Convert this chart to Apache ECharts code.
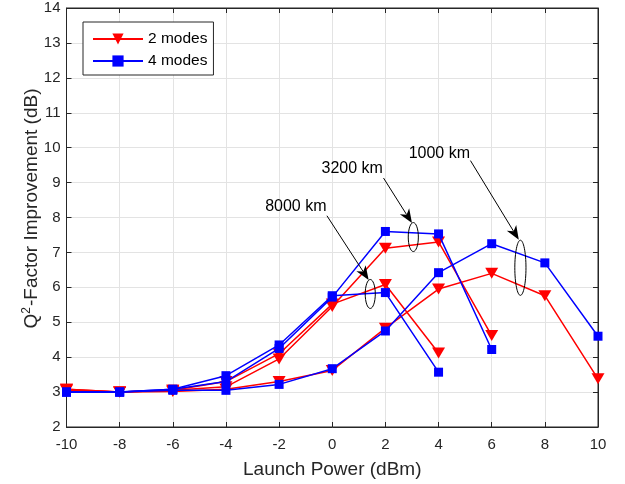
<!DOCTYPE html>
<html><head><meta charset="utf-8">
<script src="https://cdn.jsdelivr.net/npm/echarts@6/dist/echarts.min.js"></script>
<style>html,body{margin:0;padding:0;background:#fff}#c{width:625px;height:484px}</style>
</head><body><div id="c"></div>
<script>
var xPower = [-10,-8,-6,-4,-2,0,2,4,6,8,10];
var red1000  = [3.05,3.00,3.02,3.08,3.30,3.62,4.83,5.95,6.40,5.76,3.38];
var blue1000 = [3.00,3.00,3.05,3.05,3.22,3.67,4.75,6.42,7.25,6.70,4.60];
var red3200  = [3.08,3.00,3.05,3.15,3.95,5.45,7.12,7.30,4.62];
var blue3200 = [3.00,3.00,3.08,3.30,4.25,5.72,7.60,7.53,4.22];
var red8000  = [3.08,3.00,3.05,3.30,4.10,5.52,6.08,4.12];
var blue8000 = [3.00,3.00,3.08,3.47,4.35,5.76,5.85,3.57];
var xTicks = [-10,-8,-6,-4,-2,0,2,4,6,8,10];
var yTicks = [2,3,4,5,6,7,8,9,10,11,12,13,14];
var labels = ['8000 km','3200 km','1000 km'];
var labelPos = [[-1.37,8.30],[0.75,9.39],[4.03,9.82]];
var arrowFrom = [[-0.2,8.05],[1.93,9.13],[5.2,9.63]];
var arrowTo = [[1.37,6.21],[3.0,7.84],[7.02,7.36]];
var ellCenter = [[1.43,5.81],[3.05,7.44],[7.08,6.56]];
var ellSize = [[0.38,0.83],[0.38,0.83],[0.42,1.58]];

function pairs(ys){ return ys.map(function(v,i){ return [xPower[i], v]; }); }
var RED = '#ff0000', BLUE = '#0000ff';
function mk(name, ys, color, isTri){
  return {
    name: name, type: 'line', data: pairs(ys),
    symbol: isTri ? 'triangle' : 'rect',
    symbolRotate: isTri ? 180 : 0,
    symbolSize: isTri ? [13,11] : [9,9],
    lineStyle: {color: color, width: 1.5},
    itemStyle: {color: color},
    emphasis: {disabled: true},
    animation: false, z: isTri ? 2 : 3
  };
}
var chart = echarts.init(document.getElementById('c'));
var font = 'Liberation Sans, Arial, Helvetica, sans-serif';
var axisCol = '#262626';
var tickStyle = {inside: true, length: 5, lineStyle:{color:axisCol}};
chart.setOption({
  animation: false,
  textStyle: {fontFamily: font},
  grid: {left: 66.5, right: 27, top: 8, bottom: 57, show: true, borderColor: axisCol, borderWidth: 1},
  legend: {
    data: ['2 modes', '4 modes'],
    orient: 'vertical', left: 83, top: 22, itemWidth: 50, itemHeight: 14, itemGap: 6,
    padding: [9,6,6,9], backgroundColor: '#fff', borderColor: axisCol, borderWidth: 1, borderRadius: 0,
    textStyle: {fontSize: 15.5, color: '#000', fontFamily: font}
  },
  xAxis: [{
    type: 'value', min: -10, max: 10, interval: 2,
    name: 'Launch Power (dBm)', nameLocation: 'middle', nameGap: 33, nameMoveOverlap: false,
    nameTextStyle: {fontSize: 19, color: axisCol},
    axisLine: {onZero: false, lineStyle: {color: axisCol}}, axisTick: tickStyle,
    axisLabel: {fontSize: 15, color: axisCol, margin: 10},
    splitLine: {show: true, lineStyle: {color: '#e3e3e3', width: 1}}
  },{
    type: 'value', min: -10, max: 10, interval: 2, position: 'top',
    axisLine: {onZero: false, lineStyle: {color: axisCol}}, axisTick: tickStyle,
    axisLabel: {show: false}, splitLine: {show: false}
  }],
  yAxis: [{
    type: 'value', min: 2, max: 14, interval: 1,
    name: '{n|Q}{s|2}{n|-Factor Improvement (dB)}', nameLocation: 'middle', nameGap: 24, nameMoveOverlap: false,
    nameTextStyle: {color: axisCol, padding: [0,0,0,18], rich: {n: {fontSize: 19, color: axisCol, fontFamily: font}, s: {fontSize: 12, color: axisCol, fontFamily: font, verticalAlign: 'top', padding:[0,1,10,0]}}},
    axisLine: {onZero: false, lineStyle: {color: axisCol}}, axisTick: tickStyle,
    axisLabel: {fontSize: 15, color: axisCol, margin: 6},
    splitLine: {show: true, lineStyle: {color: '#e3e3e3', width: 1}}
  },{
    type: 'value', min: 2, max: 14, interval: 1, position: 'right',
    axisLine: {onZero: false, lineStyle: {color: axisCol}}, axisTick: tickStyle,
    axisLabel: {show: false}, splitLine: {show: false}
  }],
  series: [
    mk('2 modes', red1000, RED, true),
    mk('2 modes', red3200, RED, true),
    mk('2 modes', red8000, RED, true),
    mk('4 modes', blue1000, BLUE, false),
    mk('4 modes', blue3200, BLUE, false),
    mk('4 modes', blue8000, BLUE, false)
  ]
});
function px(p){ return chart.convertToPixel({gridIndex:0}, p); }
var g = [];
for (var i=0;i<3;i++){
  var t = px(labelPos[i]);
  g.push({type:'text', x:t[0], y:t[1], style:{text:labels[i], fill:'#000', font:'16px '+font, textAlign:'center', textVerticalAlign:'middle'}, z:100});
  var a = px(arrowFrom[i]), b = px(arrowTo[i]);
  var dx=b[0]-a[0], dy=b[1]-a[1], L=Math.sqrt(dx*dx+dy*dy), ux=dx/L, uy=dy/L;
  var hl=14, hw=5.5, back=10;
  var base=[b[0]-ux*hl, b[1]-uy*hl];
  var notch=[b[0]-ux*back, b[1]-uy*back];
  g.push({type:'polyline', shape:{points:[a, notch]}, style:{stroke:'#000', lineWidth:1}, z:100});
  g.push({type:'polygon', shape:{points:[b,[base[0]-uy*hw, base[1]+ux*hw], notch,[base[0]+uy*hw, base[1]-ux*hw]]}, style:{fill:'#000'}, z:100});
  var c = px(ellCenter[i]);
  var e1 = px([ellCenter[i][0]+ellSize[i][0]/2, ellCenter[i][1]+ellSize[i][1]/2]);
  g.push({type:'ellipse', shape:{cx:c[0], cy:c[1], rx:Math.abs(e1[0]-c[0]), ry:Math.abs(e1[1]-c[1])}, style:{fill:null, stroke:'#000', lineWidth:1}, z:100});
}
chart.setOption({graphic: g});
</script></body></html>
